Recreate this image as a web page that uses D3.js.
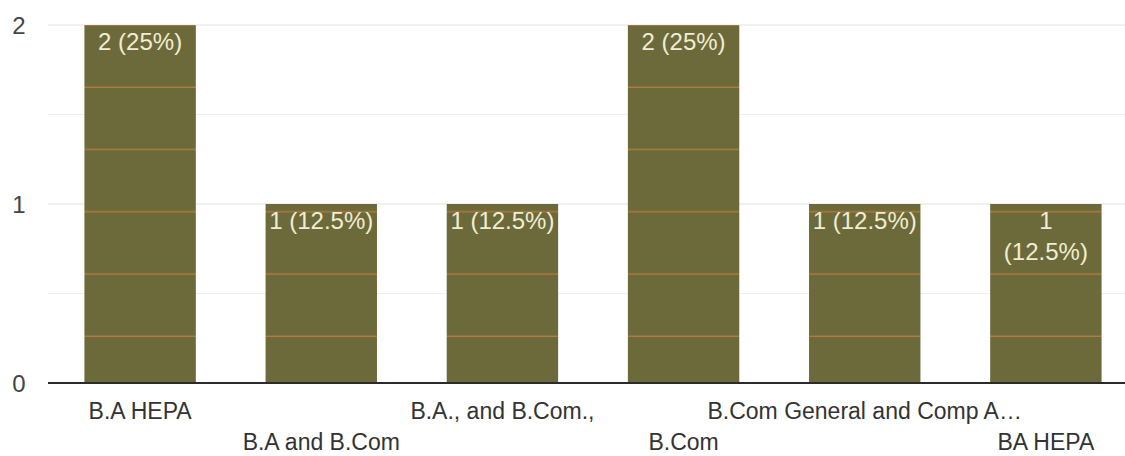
<!DOCTYPE html>
<html>
<head>
<meta charset="utf-8">
<script src="https://cdn.jsdelivr.net/npm/d3@7/dist/d3.min.js"></script>
<style>
  html, body { margin: 0; padding: 0; background: #ffffff; }
  svg { display: block; font-family: "Liberation Sans", Arial, sans-serif; }
</style>
</head>
<body>
<svg id="chart" width="1125" height="456"></svg>
<script>
// ---- data ----
const categories = ["B.A HEPA", "B.A and B.Com", "B.A., and B.Com.,", "B.Com", "B.Com General and Comp A\u2026", "BA HEPA"];
const counts = [2, 1, 1, 2, 1, 1];
const yTicks = [0, 1, 2];
const minorTicks = [0.5, 1.5];
const labelWrap = [false, false, false, false, false, true];

// ---- setup ----
const W = 1125, H = 456;
const svg = d3.select("#chart");
const total = d3.sum(counts);

const x = d3.scaleBand().domain(categories).range([50, 1136]).paddingInner(0.385).paddingOuter(0.19);
const y = d3.scaleLinear().domain([0, 2]).range([383, 25]);
const plotLeft = 48;

// stripe pattern (scan artefact look)
const defs = svg.append("defs");
const pat = defs.append("pattern")
  .attr("id", "barfill")
  .attr("patternUnits", "userSpaceOnUse")
  .attr("x", 0).attr("y", 88 - 62.25)
  .attr("width", 20).attr("height", 62.25);
pat.append("rect").attr("width", 20).attr("height", 62.25).attr("fill", "#6c6a3b");
pat.append("line").attr("x1", 0).attr("x2", 20).attr("y1", 62.25 - 0.5).attr("y2", 62.25 - 0.5)
  .attr("stroke", "#b97c3c").attr("stroke-width", 1.8).attr("opacity", 0.9);

// gridlines
svg.append("g").selectAll("line.minor").data(minorTicks).join("line")
  .attr("x1", plotLeft).attr("x2", W)
  .attr("y1", d => y(d)).attr("y2", d => y(d))
  .attr("stroke", "#efefef").attr("stroke-width", 1);
svg.append("g").selectAll("line.major").data(yTicks.filter(d => d > 0)).join("line")
  .attr("x1", plotLeft).attr("x2", W)
  .attr("y1", d => y(d)).attr("y2", d => y(d))
  .attr("stroke", "#e2e2e2").attr("stroke-width", 1);

// y tick labels
svg.append("g").selectAll("text").data(yTicks).join("text")
  .attr("x", 19).attr("y", d => y(d))
  .attr("dy", "0.36em")
  .attr("text-anchor", "middle")
  .attr("font-size", 24)
  .attr("fill", "#444")
  .text(d => d);

// bars
svg.append("g").selectAll("rect").data(counts).join("rect")
  .attr("x", (d, i) => x(categories[i]))
  .attr("y", d => y(d))
  .attr("width", x.bandwidth())
  .attr("height", d => y(0) - y(d))
  .attr("fill", "url(#barfill)");

// value labels
const vl = svg.append("g").selectAll("text").data(counts).join("text")
  .attr("text-anchor", "middle")
  .attr("font-size", 24)
  .attr("fill", "#f1edd2")
  .attr("x", (d, i) => x(categories[i]) + x.bandwidth() / 2)
  .attr("y", d => y(d) + 25);
vl.each(function(d, i) {
  const pct = +(d / total * 100).toFixed(1);
  const t = d3.select(this);
  const cx = x(categories[i]) + x.bandwidth() / 2;
  if (labelWrap[i]) {
    t.append("tspan").attr("x", cx).text(d);
    t.append("tspan").attr("x", cx).attr("dy", 31).text(`(${pct}%)`);
  } else {
    t.text(`${d} (${pct}%)`);
  }
});

// baseline
svg.append("line")
  .attr("x1", plotLeft).attr("x2", W)
  .attr("y1", y(0)).attr("y2", y(0))
  .attr("stroke", "#2b2b2b").attr("stroke-width", 2);

// x labels (staggered)
svg.append("g").selectAll("text").data(categories).join("text")
  .attr("x", d => x(d) + x.bandwidth() / 2)
  .attr("y", (d, i) => i % 2 === 0 ? 419 : 450)
  .attr("text-anchor", "middle")
  .attr("font-size", 23)
  .attr("fill", "#333")
  .text(d => d);
</script>
</body>
</html>
